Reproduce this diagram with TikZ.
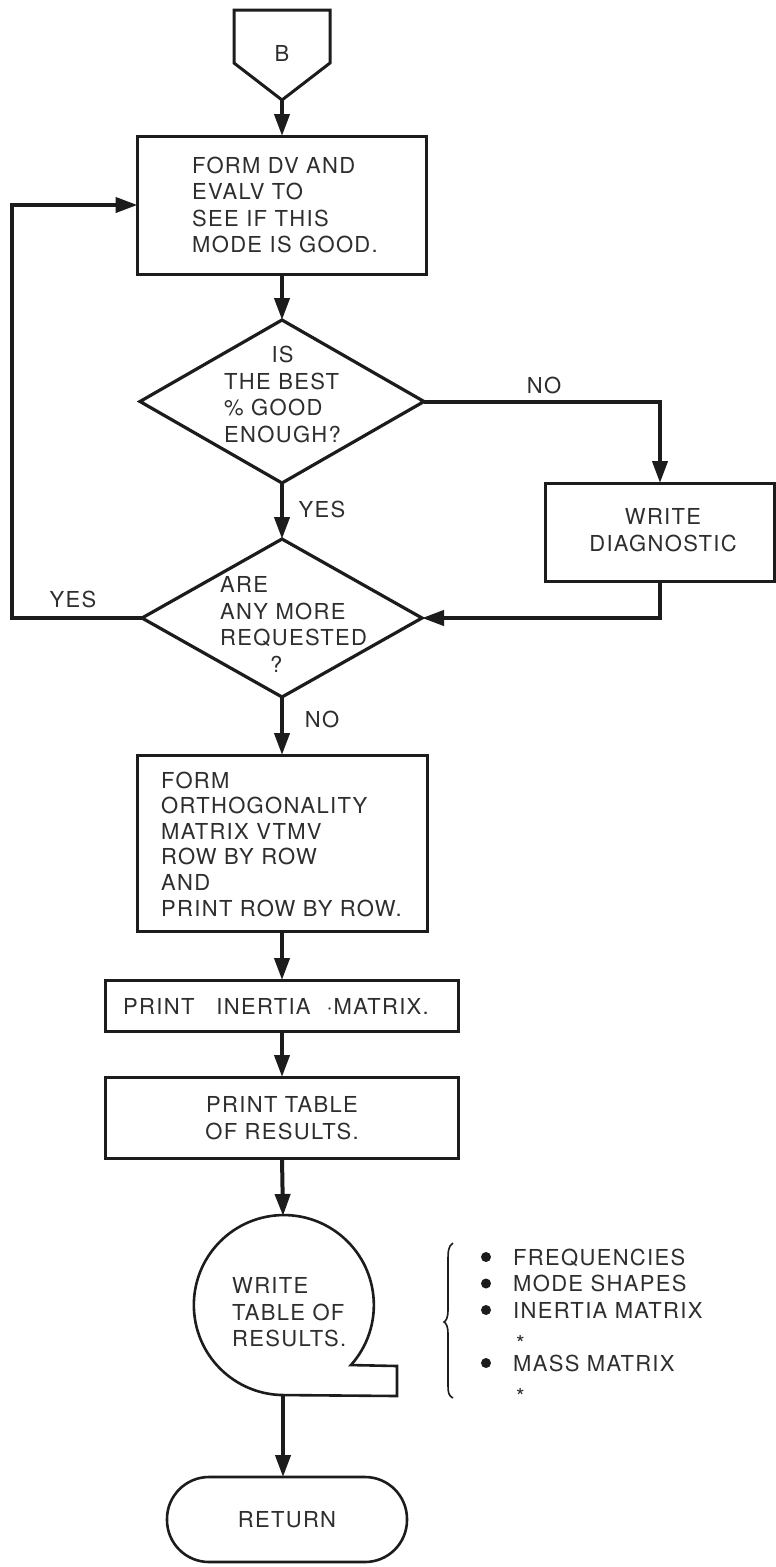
\documentclass[tikz,border=0pt]{standalone}
\usepackage{fontspec}
\setmainfont{TeX Gyre Heros}[LetterSpace=6]
\usetikzlibrary{shapes.geometric,arrows.meta}
\definecolor{ink}{HTML}{1C1C1C}
\definecolor{inktext}{HTML}{2E2E2E}
\newcommand\fl{\fontsize{22}{26.5}\selectfont}
\newcommand\lowast{\hspace{3pt}\raisebox{-7pt}{*}}
\begin{document}
\begin{tikzpicture}[x=1pt,y=-1pt,
  outline/.style={draw=ink, line width=3pt, inner sep=0pt, outer sep=0pt},
  flowbox/.style={outline, rectangle},
  flowdia/.style={outline, diamond, line width=3.2pt},
  conn/.style={draw=ink, line width=4pt, -{Triangle[length=22pt,width=15pt]}},
  txt/.style={font=\fl, text=inktext, inner sep=0pt, anchor=west},
  lbl/.style={font=\fl, text=inktext, inner sep=0pt, anchor=base},
  dot/.style={circle, fill=ink, minimum size=10pt, inner sep=0pt}]

\fill[white] (0,0) rectangle (776,1567);
\useasboundingbox (0,0) rectangle (776,1567);

% off-page connector B
\coordinate (bpt) at (282,100);
\draw[outline, line join=miter] (234,10) -- (330,10) -- (330,63) -- (bpt) -- (234,63) -- cycle;
\node[lbl] (tB) at (282,61) {B};

% process boxes and decisions
\node[flowbox, minimum width=289pt, minimum height=138pt] (box1) at (282,205) {};
\node[flowdia, minimum width=284pt, minimum height=163pt] (d1) at (282,401.5) {};
\node[flowbox, minimum width=229pt, minimum height=98pt] (diag) at (660,532) {};
\node[flowdia, minimum width=280pt, minimum height=158pt] (d2) at (282,618) {};
\node[flowbox, minimum width=290pt, minimum height=176pt] (box3) at (282,843) {};
\node[flowbox, minimum width=353pt, minimum height=51pt] (box4) at (282,1005.5) {};
\node[flowbox, minimum width=353pt, minimum height=81pt] (box5) at (282,1117.5) {};

% tape / display symbol
\node[circle, minimum size=180pt, inner sep=0pt, outer sep=0pt] (tape) at (283,1306) {};
\draw[ink, line width=2.6pt, line join=miter]
  (tape.-41.81) arc[start angle=-41.81, end angle=270, radius=90pt]
  -- (397,1396) -- (397,1366) -- cycle;

% terminal
\node[outline, line width=2.6pt, rounded corners=42pt, minimum width=240pt, minimum height=85pt,
      font=\fl, text=inktext] (ret) at (287,1519.5) {RETURN};

% texts
\node[txt] (t1) at (192,207.7) {\begin{tabular}{@{}l@{}}FORM DV AND\\EVALV TO\\SEE IF THIS\\MODE IS GOOD.\end{tabular}};
\node[txt] (t2) at (224,397.2) {\begin{tabular}{@{}l@{}}\multicolumn{1}{@{}c@{}}{IS}\\THE BEST\\\% GOOD\\ENOUGH?\end{tabular}};
\node[txt, anchor=center] (t3) at (663,532.7) {\begin{tabular}{@{}c@{}}WRITE\\DIAGNOSTIC\end{tabular}};
\node[txt] (t4) at (220,627.2) {\begin{tabular}{@{}l@{}}ARE\\ANY MORE\\REQUESTED\\\hspace{50pt}?\end{tabular}};
\node[txt, font=\fontsize{22}{25.6}\selectfont] (t5) at (161,846.9) {\begin{tabular}{@{}l@{}}FORM\\ORTHOGONALITY\\MATRIX VTMV\\ROW BY ROW\\AND\\PRINT ROW BY ROW.\end{tabular}};
\node[txt, anchor=base west] (t6) at (123,1014) {PRINT\hspace{22pt}INERTIA\hspace{16pt}·\hspace{1pt}MATRIX.};
\node[txt, anchor=center] (t7) at (282,1120.7) {\begin{tabular}{@{}c@{}}PRINT TABLE\\OF RESULTS.\end{tabular}};
\node[txt] (t8) at (232,1314.7) {\begin{tabular}{@{}l@{}}WRITE\\TABLE OF\\RESULTS.\end{tabular}};

% branch labels
\node[lbl] (no1) at (544,393) {NO};
\node[lbl] (yes1) at (322,517) {YES};
\node[lbl] (yes2) at (73,607) {YES};
\node[lbl] (no2) at (322,727) {NO};

% list of outputs
\draw[ink, line width=1.6pt]
  (453,1243) .. controls (448,1246) and (448,1252) .. (448,1262) -- (448,1310)
  .. controls (448,1318) and (446,1321) .. (444,1322)
  .. controls (446,1323) and (448,1326) .. (448,1334) -- (448,1386)
  .. controls (448,1393) and (449,1396) .. (453,1398);
\foreach \y [count=\i] in {1257,1283.5,1310,1363}
  \node[dot] (b\i) at (486,\y) {};
\node[txt] (t9) at (513,1326) {\begin{tabular}{@{}l@{}}FREQUENCIES\\MODE SHAPES\\INERTIA MATRIX\\\lowast\\MASS MATRIX\\\lowast\end{tabular}};

% connectors
\coordinate (loopx) at (12,0);
\draw[conn] (bpt) -- (box1.north);
\draw[conn] (box1.south) -- (d1.north);
\draw[conn] (d1.east) -| (diag.north);
\draw[conn] (d1.south) -- (d2.north);
\draw[conn] (diag.south) |- (d2.east);
\draw[conn] (d2.west) -- (loopx |- d2.west) -- (loopx |- box1.west) -- (box1.west);
\draw[conn] (d2.south) -- (box3.north);
\draw[conn] (box3.south) -- (box4.north);
\draw[conn] (box4.south) -- (box5.north);
\draw[conn] (box5.south) -- (tape.north);
\draw[conn] (tape.south) -- (ret.north -| tape.south);
\end{tikzpicture}
\end{document}
